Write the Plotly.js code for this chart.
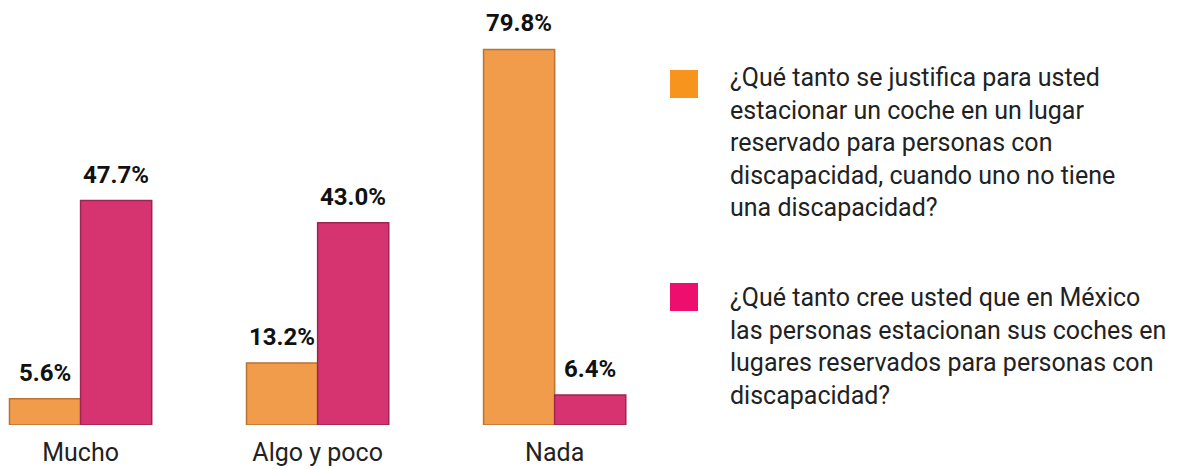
<!DOCTYPE html>
<html>
<head>
<meta charset="utf-8">
<script src="https://cdn.plot.ly/plotly-3.0.1.min.js"></script>
<style>html,body{margin:0;padding:0;background:#fff;}#chart{width:1183px;height:469px;}</style>
</head>
<body>
<div id="chart"></div>
<script>
var categories = ["Mucho", "Algo y poco", "Nada"];
var justificaValues = [5.6, 13.2, 79.8];
var creeValues = [47.7, 43.0, 6.4];
var seriesNames = [
  "¿Qué tanto se justifica para usted<br>estacionar un coche en un lugar<br>reservado para personas con<br>discapacidad, cuando uno no tiene<br>una discapacidad?",
  "¿Qué tanto cree usted que en México<br>las personas estacionan sus coches en<br>lugares reservados para personas con<br>discapacidad?"
];
var barColors = ["#F09C4A", "#D63470"];
var capColors = ["#B97334", "#9E2452"];
var legendColors = ["#F7941D", "#EC0F6E"];

function fmt(v){ return v.toFixed(1) + "%"; }

var FONT = "Roboto, 'DejaVu Sans', sans-serif";

var traces = [
  {
    type: "bar", name: seriesNames[0], x: categories, y: justificaValues,
    marker: {color: barColors[0], line: {color: capColors[0], width: 1.5}},
    showlegend: false, hoverinfo: "x+y", offsetgroup: "a"
  },
  {
    type: "bar", name: seriesNames[1], x: categories, y: creeValues,
    marker: {color: barColors[1], line: {color: capColors[1], width: 1.5}},
    showlegend: false, hoverinfo: "x+y", offsetgroup: "b"
  }
];

var annotations = [];
var groupOffset = [-0.15, 0.15];
[justificaValues, creeValues].forEach(function(vals, s){
  vals.forEach(function(v, i){
    annotations.push({xref: "x", yref: "y", x: i + groupOffset[s], y: v,
      xanchor: "center", yanchor: "bottom", yshift: 10, showarrow: false,
      text: "<b>" + fmt(v) + "</b>",
      font: {family: FONT, size: 24, color: "#111"}});
  });
});

var shapes = [];
var sqY = [[0.8175, 0.8875], [0.285, 0.355]];
var txY = [0.91, 0.36];
for (var i = 0; i < 2; i++) {
  shapes.push({type: "rect", xref: "paper", yref: "paper",
    x0: 670/1183, x1: 698/1183, y0: sqY[i][0], y1: sqY[i][1],
    fillcolor: legendColors[i], line: {width: 0}});
  annotations.push({xref: "paper", yref: "paper", x: 728/1183, y: txY[i],
    xanchor: "left", yanchor: "top", align: "left", showarrow: false,
    text: seriesNames[i], font: {family: FONT, size: 25, color: "#222"}});
}

var layout = {
  width: 1183, height: 469,
  margin: {l: 0, r: 0, t: 25, b: 44},
  paper_bgcolor: "#fff", plot_bgcolor: "#fff",
  barmode: "group", bargap: 0.4, bargroupgap: 0,
  showlegend: false,
  xaxis: {type: "category", domain: [0, 640/1183], range: [-0.34, 2.36], showgrid: false, zeroline: false,
    showline: false, ticks: "", ticklabelstandoff: 10,
    tickfont: {family: FONT, size: 25, color: "#222"}},
  yaxis: {range: [0, 85], visible: false, showgrid: false, zeroline: false},
  shapes: shapes,
  annotations: annotations
};

Plotly.newPlot("chart", traces, layout, {displayModeBar: false, staticPlot: true});
</script>
</body>
</html>
